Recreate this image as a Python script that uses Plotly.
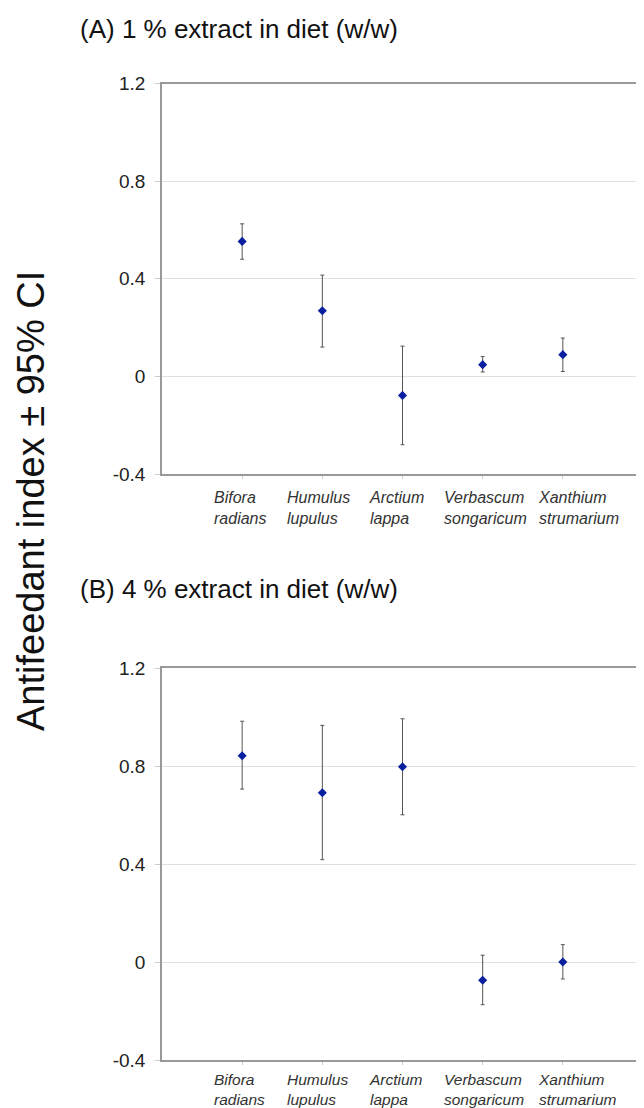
import plotly.graph_objects as go

species = ["Bifora<br>radians", "Humulus<br>lupulus", "Arctium<br>lappa",
           "Verbascum<br>songaricum", "Xanthium<br>strumarium"]

# Panel A: 1 % extract
a_mean = [0.553, 0.269, -0.078, 0.048, 0.089]
a_upper = [0.625, 0.415, 0.124, 0.081, 0.157]
a_lower = [0.480, 0.120, -0.280, 0.018, 0.020]

# Panel B: 4 % extract
b_mean = [0.843, 0.692, 0.798, -0.073, 0.001]
b_upper = [0.984, 0.967, 0.994, 0.029, 0.072]
b_lower = [0.707, 0.419, 0.602, -0.173, -0.068]

yticks = [-0.4, 0, 0.4, 0.8, 1.2]
ytick_text = ["-0.4", "0", "0.4", "0.8", "1.2"]

FONT = "Liberation Sans, Arial, sans-serif"
marker = dict(symbol="diamond", size=7, color="#0a1fa0")
label_xshift = [-30, -37, -36, -41, -27]   # px, left edge of each category label

def trace(mean, up, lo, xa, ya):
    return go.Scatter(
        x=list(range(len(species))), y=mean, mode="markers", marker=marker,
        error_y=dict(type="data", symmetric=False,
                     array=[u - m for u, m in zip(up, mean)],
                     arrayminus=[m - l for m, l in zip(mean, lo)],
                     color="#555555", thickness=1, width=2),
        xaxis=xa, yaxis=ya, showlegend=False, hoverinfo="y")

fig = go.Figure()
fig.add_trace(trace(a_mean, a_upper, a_lower, "x", "y"))
fig.add_trace(trace(b_mean, b_upper, b_lower, "x2", "y2"))

# page body has an 8px margin: figure covers reference pixels 8..644 / 8..1108
OFF = 8
W, H = 636, 1100
def px(x):
    return (x - OFF) / W
def py(y):
    return 1 - (y - OFF) / H

xdom = [px(162), min(1.0, px(643))]
ydomA = [py(474), py(83.5)]
ydomB = [py(1060.3), py(668.3)]

xcommon = dict(range=[-1, 5], tickvals=list(range(len(species))), showticklabels=False,
               showline=True, linecolor="#999999", linewidth=1.5, mirror=True,
               ticks="outside", ticklen=3, tickcolor="#cccccc",
               showgrid=False, zeroline=False, automargin=False)
ycommon = dict(range=[-0.4, 1.2], tickvals=yticks, ticktext=ytick_text,
               showline=True, linecolor="#999999", linewidth=1.5, mirror=True,
               ticks="outside", ticklen=5, tickcolor="#cccccc",
               showgrid=True, gridcolor="#e0e0e0", gridwidth=1, zeroline=False,
               automargin=False, ticklabelstandoff=6,
               tickfont=dict(family=FONT, size=19, color="#222222"))

annotations = [
    dict(text="(A) 1 % extract in diet (w/w)", x=px(78), y=py(29),
         xref="paper", yref="paper", xanchor="left", yanchor="middle",
         showarrow=False, font=dict(family=FONT, size=26, color="#111111")),
    dict(text="(B) 4 % extract in diet (w/w)", x=px(78), y=py(589),
         xref="paper", yref="paper", xanchor="left", yanchor="middle",
         showarrow=False, font=dict(family=FONT, size=26, color="#111111")),
    dict(text="Antifeedant index ± 95% CI", x=px(31), y=py(501),
         xref="paper", yref="paper", xanchor="center", yanchor="middle",
         textangle=-90, showarrow=False,
         font=dict(family=FONT, size=38, color="#111111")),
]
for xa, ya, ysh, fs in [("x", "y", -13, 16), ("x2", "y2", -9, 15.5)]:
    for i, name in enumerate(species):
        annotations.append(dict(
            text="<i>" + name + "</i>", x=i, y=-0.4, xref=xa, yref=ya,
            xanchor="left", yanchor="top", align="left",
            xshift=label_xshift[i], yshift=ysh, showarrow=False,
            font=dict(family=FONT, size=fs, color="#333333")))

fig.update_layout(
    width=W, height=H,
    margin=dict(l=0, r=0, t=0, b=0, autoexpand=False),
    paper_bgcolor="white", plot_bgcolor="white",
    xaxis=dict(domain=xdom, anchor="y", **xcommon),
    yaxis=dict(domain=ydomA, anchor="x", **ycommon),
    xaxis2=dict(domain=xdom, anchor="y2", **xcommon),
    yaxis2=dict(domain=ydomB, anchor="x2", **ycommon),
    annotations=annotations,
)

fig.write_html("out.html")
